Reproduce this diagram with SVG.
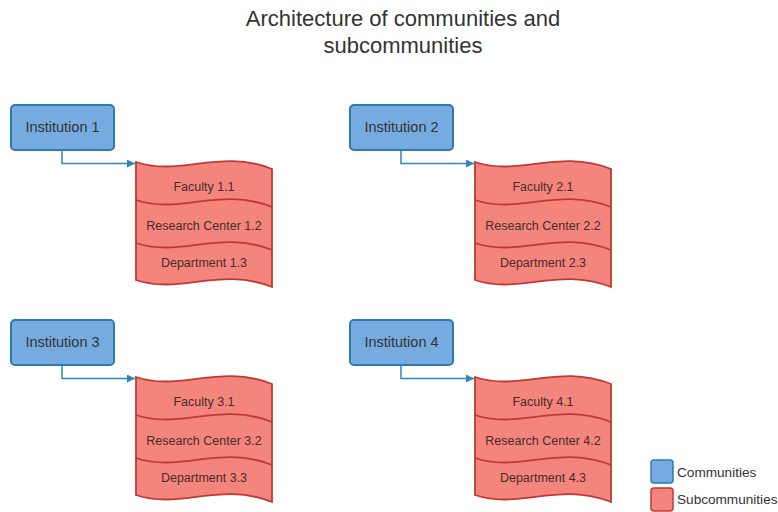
<svg xmlns="http://www.w3.org/2000/svg" width="778" height="512" viewBox="0 0 778 512">
<defs>
<style>
.title{font-family:"Liberation Sans",Arial,sans-serif;font-size:22px;fill:#333;text-anchor:middle}
.inst rect{fill:#76abdf;stroke:#2d79b3;stroke-width:2}
.inst text{font-family:"Liberation Sans",Arial,sans-serif;font-size:14.5px;fill:#333;text-anchor:middle}
.sub .bg{fill:#f4857d;stroke:#bf3a35;stroke-width:1.8}
.sub .div{fill:none;stroke:#bf3a35;stroke-width:1.8}
.sub text{font-family:"Liberation Sans",Arial,sans-serif;font-size:12.5px;fill:#4a2a2a;text-anchor:middle}
.conn path{fill:none;stroke:#2f86bd;stroke-width:1.5}
.leg text{font-family:"Liberation Sans",Arial,sans-serif;font-size:13.6px;fill:#333}
</style>
<marker id="arr" viewBox="0 0 10 10" refX="10" refY="5" markerWidth="8" markerHeight="8" markerUnits="userSpaceOnUse" orient="auto">
<path d="M0,0 L10,5 L0,10 z" fill="#2f86bd"/>
</marker>
</defs>
<rect width="778" height="512" fill="#fff"/>
<text class="title" x="403" y="26">Architecture of communities and</text>
<text class="title" x="403" y="53">subcommunities</text>

<g class="conn">
<path d="M62,150 V163.5 H135" marker-end="url(#arr)"/>
<path d="M401,150 V163.5 H474" marker-end="url(#arr)"/>
<path d="M62,365 V378.5 H135" marker-end="url(#arr)"/>
<path d="M401,365 V378.5 H474" marker-end="url(#arr)"/>
</g>

<g id="institution1" class="inst"><rect x="11" y="105" width="103" height="45" rx="4"/><text x="62.5" y="132">Institution 1</text></g>
<g id="institution2" class="inst"><rect x="350" y="105" width="103" height="45" rx="4"/><text x="401.5" y="132">Institution 2</text></g>
<g id="institution3" class="inst"><rect x="11" y="320" width="103" height="45" rx="4"/><text x="62.5" y="347">Institution 3</text></g>
<g id="institution4" class="inst"><rect x="350" y="320" width="103" height="45" rx="4"/><text x="401.5" y="347">Institution 4</text></g>

<g id="sub1" class="sub">
<path class="bg" d="M136,162 C180,177 220,148 272,169 L272,287 C220,266 180,295 136,280 Z"/>
<path class="div" d="M136,200 C180,215 220,186 272,207"/>
<path class="div" d="M136,243 C180,258 220,229 272,250"/>
<text x="204" y="191">Faculty 1.1</text>
<text x="204" y="230">Research Center 1.2</text>
<text x="204" y="267">Department 1.3</text>
</g>
<g id="sub2" class="sub" transform="translate(339,0)">
<path class="bg" d="M136,162 C180,177 220,148 272,169 L272,287 C220,266 180,295 136,280 Z"/>
<path class="div" d="M136,200 C180,215 220,186 272,207"/>
<path class="div" d="M136,243 C180,258 220,229 272,250"/>
<text x="204" y="191">Faculty 2.1</text>
<text x="204" y="230">Research Center 2.2</text>
<text x="204" y="267">Department 2.3</text>
</g>
<g id="sub3" class="sub" transform="translate(0,215)">
<path class="bg" d="M136,162 C180,177 220,148 272,169 L272,287 C220,266 180,295 136,280 Z"/>
<path class="div" d="M136,200 C180,215 220,186 272,207"/>
<path class="div" d="M136,243 C180,258 220,229 272,250"/>
<text x="204" y="191">Faculty 3.1</text>
<text x="204" y="230">Research Center 3.2</text>
<text x="204" y="267">Department 3.3</text>
</g>
<g id="sub4" class="sub" transform="translate(339,215)">
<path class="bg" d="M136,162 C180,177 220,148 272,169 L272,287 C220,266 180,295 136,280 Z"/>
<path class="div" d="M136,200 C180,215 220,186 272,207"/>
<path class="div" d="M136,243 C180,258 220,229 272,250"/>
<text x="204" y="191">Faculty 4.1</text>
<text x="204" y="230">Research Center 4.2</text>
<text x="204" y="267">Department 4.3</text>
</g>

<g id="legend" class="leg">
<rect x="651" y="460" width="22" height="23" rx="3" fill="#76abdf" stroke="#2d79b3" stroke-width="1.5"/>
<text x="677" y="477">Communities</text>
<rect x="651" y="488" width="22" height="23" rx="3" fill="#f4857d" stroke="#bf3a35" stroke-width="1.5"/>
<text x="677" y="504">Subcommunities</text>
</g>
</svg>
